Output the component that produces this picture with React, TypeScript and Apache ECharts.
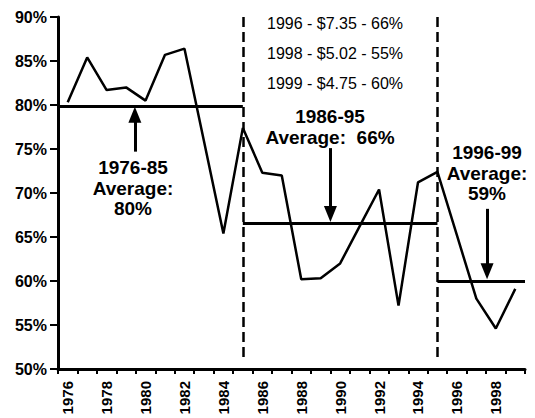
import React, { useEffect, useRef } from "react";
import * as echarts from "echarts";

const years: string[] = [
  "1976","1977","1978","1979","1980","1981","1982","1983","1984","1985",
  "1986","1987","1988","1989","1990","1991","1992","1993","1994","1995",
  "1996","1997","1998","1999",
];
const shares: number[] = [
  80.3, 85.4, 81.7, 82.0, 80.5, 85.7, 86.4, 75.9, 65.4, 77.4,
  72.3, 72.0, 60.2, 60.3, 62.0, 66.2, 70.4, 57.2, 71.2, 72.4,
  65.2, 58.0, 54.6, 59.1,
];
// period averages: [start, end, value]
const averages: [number, number, number][] = [
  [1975.5, 1985, 79.9],
  [1985, 1995, 66.55],
  [1995, 1999.5, 60.0],
];
const dividers: number[] = [1985, 1995];
// arrows: [x, from value, to value]
const arrows: [number, number, number][] = [
  [1979.45, 74.7, 78.9],
  [1989.5, 75.1, 67.6],
  [1997.55, 68.2, 61.1],
];
const priceNotes: string[] = [
  "1996 - $7.35 - 66%",
  "1998 - $5.02 - 55%",
  "1999 - $4.75 - 60%",
];
const yMin = 50;
const yMax = 90;
const yStep = 5;

const FONT = "'Liberation Sans', Arial, Helvetica, sans-serif";

export default function App() {
  const ref = useRef<HTMLDivElement>(null);
  useEffect(() => {
    if (!ref.current) return;
    const chart = echarts.init(ref.current, undefined, { renderer: "svg" });
    const first = Number(years[0]);
    const last = Number(years[years.length - 1]);

    const markData: any[] = [];
    averages.forEach(([a, b, v]) => {
      markData.push([
        { coord: [a, v], symbol: "none", lineStyle: { type: "solid", width: 3, color: "#000" } },
        { coord: [b, v], symbol: "none" },
      ]);
    });
    dividers.forEach((x) => {
      markData.push([
        { coord: [x, yMax], symbol: "none", lineStyle: { type: [10, 5], width: 2.5, color: "#000" } },
        { coord: [x, 51], symbol: "none" },
      ]);
    });
    arrows.forEach(([x, a, b]) => {
      markData.push([
        { coord: [x, a], symbol: "none", lineStyle: { type: "solid", width: 3, color: "#000" } },
        { coord: [x, b], symbol: "triangle", symbolSize: [13, 16] },
      ]);
    });

    const boldText = (text: string, x: number, y: number) => ({
      type: "text",
      x,
      y,
      style: {
        text,
        font: `bold 19px ${FONT}`,
        fill: "#000",
        align: "center",
        verticalAlign: "middle",
        lineHeight: 20.5,
      },
      silent: true,
    });

    chart.setOption({
      animation: false,
      backgroundColor: "#fff",
      textStyle: { fontFamily: FONT },
      grid: { left: 58, right: 10, top: 17, bottom: 49, containLabel: false },
      xAxis: [
        {
          type: "category",
          data: years,
          boundaryGap: true,
          axisLine: { lineStyle: { color: "#000", width: 3 } },
          axisTick: { show: true, interval: 0, length: 5, lineStyle: { color: "#000", width: 2 } },
          axisLabel: {
            interval: 1,
            rotate: 90,
            margin: 12,
            color: "#000",
            fontWeight: "bold",
            fontSize: 15,
            fontFamily: FONT,
          },
          splitLine: { show: false },
        },
        {
          type: "value",
          min: first - 0.5,
          max: last + 0.5,
          show: false,
          splitLine: { show: false },
        },
      ],
      yAxis: {
        type: "value",
        min: yMin,
        max: yMax,
        interval: yStep,
        axisLine: { show: true, lineStyle: { color: "#000", width: 3 } },
        axisTick: { show: true, length: 8, lineStyle: { color: "#000", width: 2 } },
        axisLabel: {
          formatter: "{value}%",
          margin: 11,
          color: "#000",
          fontWeight: "bold",
          fontSize: 16,
          fontFamily: FONT,
        },
        splitLine: { show: false },
      },
      series: [
        {
          type: "line",
          xAxisIndex: 1,
          data: years.map((y, i) => [Number(y), shares[i]]),
          symbol: "none",
          lineStyle: { color: "#000", width: 2.5 },
          silent: true,
          markLine: {
            silent: true,
            animation: false,
            label: { show: false },
            emphasis: { disabled: true },
            data: markData,
          },
          z: 3,
        },
      ],
      graphic: [
        ...priceNotes.map((t, i) => ({
          type: "text",
          x: 267,
          y: 23 + i * 30,
          style: {
            text: t,
            font: `16px ${FONT}`,
            fill: "#000",
            align: "left",
            verticalAlign: "middle",
          },
          silent: true,
        })),
        boldText("1976-85\nAverage:\n80%", 133, 188),
        boldText("1986-95\nAverage:  66%", 330, 127),
        boldText("1996-99\nAverage:\n59%", 487, 173),
      ],
    });
    return () => chart.dispose();
  }, []);
  return (
    <div
      ref={ref}
      style={{ position: "fixed", left: 0, top: 0, width: 535, height: 418, background: "#fff" }}
    />
  );
}
